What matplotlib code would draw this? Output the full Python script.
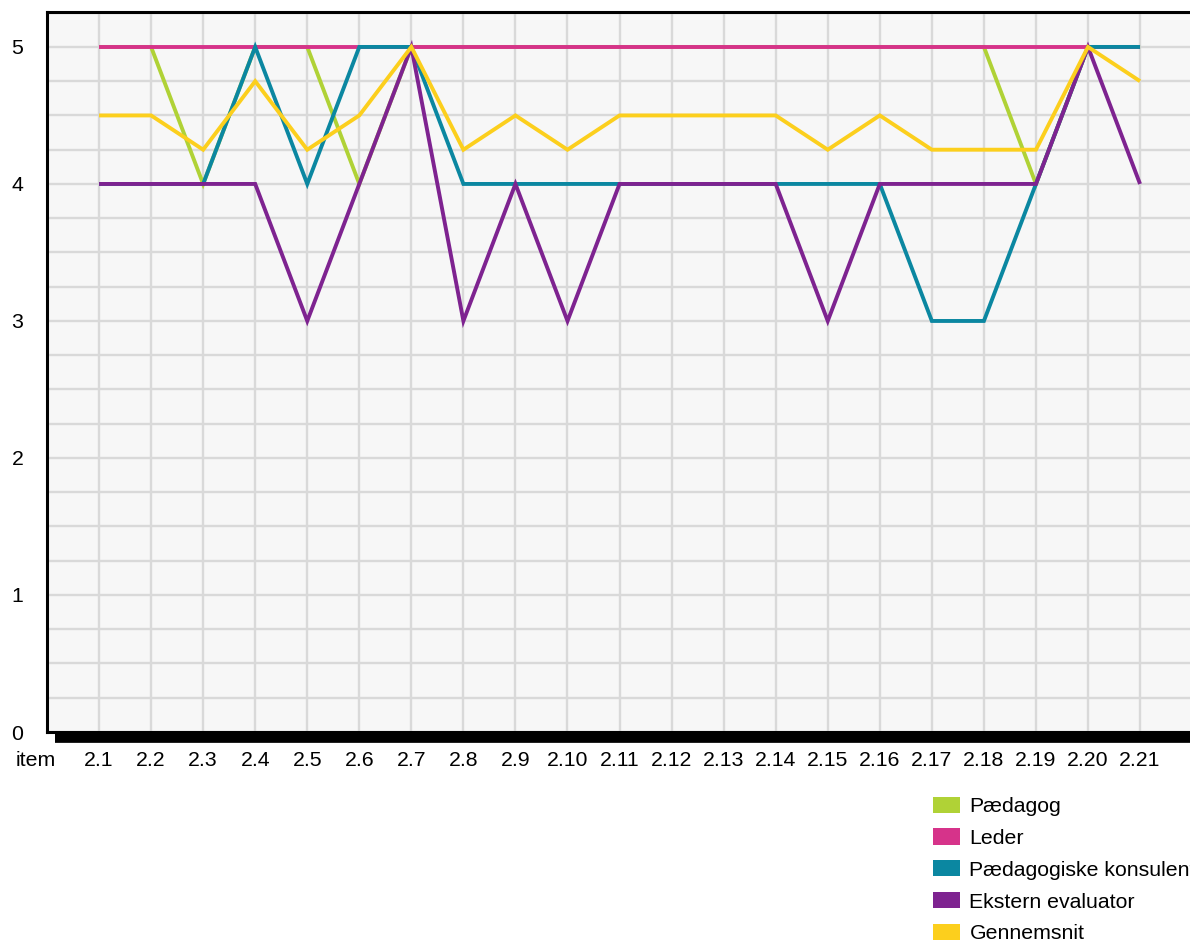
import matplotlib
matplotlib.use('Agg')
import matplotlib.pyplot as plt
from matplotlib.patches import Patch

plt.rcParams['font.family'] = ['Liberation Sans', 'DejaVu Sans']

# Data.
items = ['2.1', '2.2', '2.3', '2.4', '2.5', '2.6', '2.7', '2.8', '2.9', '2.10',
         '2.11', '2.12', '2.13', '2.14', '2.15', '2.16', '2.17', '2.18',
         '2.19', '2.20', '2.21']
paedagog = [5, 5, 4, 5, 5, 4, 5, 5, 5, 5, 5, 5, 5, 5, 5, 5, 5, 5, 4, 5, 5]
leder = [5, 5, 5, 5, 5, 5, 5, 5, 5, 5, 5, 5, 5, 5, 5, 5, 5, 5, 5, 5, 5]
konsulent = [4, 4, 4, 5, 4, 5, 5, 4, 4, 4, 4, 4, 4, 4, 4, 4, 3, 3, 4, 5, 5]
ekstern = [4, 4, 4, 4, 3, 4, 5, 3, 4, 3, 4, 4, 4, 4, 3, 4, 4, 4, 4, 5, 4]
gennemsnit = [4.5, 4.5, 4.25, 4.75, 4.25, 4.5, 5, 4.25, 4.5, 4.25, 4.5, 4.5,
              4.5, 4.5, 4.25, 4.5, 4.25, 4.25, 4.25, 5, 4.75]

series_names = ['Pædagog', 'Leder', 'Pædagogiske konsulent',
                'Ekstern evaluator', 'Gennemsnit']
series_values = [paedagog, leder, konsulent, ekstern, gennemsnit]
colors = ['#b0d236', '#d6338a', '#0b87a1', '#7e2390', '#fccf1d']

FS = 15.3
W, H = 1190, 944
fig = plt.figure(figsize=(W / 100, H / 100), dpi=100)

# Axes runs past the right edge of the picture, like the original.
step = 52.05
xmax = 23
ax = fig.add_axes([47 / W, (H - 732) / H, xmax * step / W, 720 / H])
ax.set_facecolor('#f7f7f7')

x = list(range(1, len(items) + 1))
for vals, col in zip(series_values, colors):
    ax.plot(x, vals, color=col, linewidth=2.8, solid_joinstyle='miter',
            solid_capstyle='butt', zorder=3)

ax.set_xlim(0, xmax)
ax.set_ylim(0, 5.255)

# Grid
ax.set_xticks(x + [22])
ax.set_xticklabels(items + [''], fontsize=FS)
ax.set_yticks([0, 1, 2, 3, 4, 5])
ax.set_yticklabels(['0', '1', '2', '3', '4', '5'], fontsize=FS)
ax.set_yticks([i * 0.25 for i in range(1, 22)], minor=True)
ax.grid(True, which='both', color='#d9d9d9', linewidth=1.7, zorder=1)
ax.set_axisbelow(True)
ax.tick_params(axis='both', which='both', length=0)
ax.tick_params(axis='x', pad=14)
ax.tick_params(axis='y', pad=17)

# Frame
for side in ['left', 'top', 'bottom']:
    ax.spines[side].set_linewidth(2.2)
    ax.spines[side].set_color('black')
ax.spines['right'].set_visible(False)
ax.plot([8 / (xmax * step), 1], [-5.5 / 720, -5.5 / 720], color='black',
        linewidth=7, transform=ax.transAxes, clip_on=False,
        solid_capstyle='butt')

fig.text(36 / W, 1 - 761 / H, 'item', fontsize=FS, ha='center', va='center')

# Legend
handles = [Patch(facecolor=c, edgecolor='none') for c in colors]
fig.legend(handles, series_names, loc='upper left',
           bbox_to_anchor=(924 / W, 1 - 788 / H), frameon=False, fontsize=FS,
           handlelength=1.28, handleheight=0.8, handletextpad=0.46,
           labelspacing=0.58, borderaxespad=0)

plt.savefig('out.png', dpi=100)
